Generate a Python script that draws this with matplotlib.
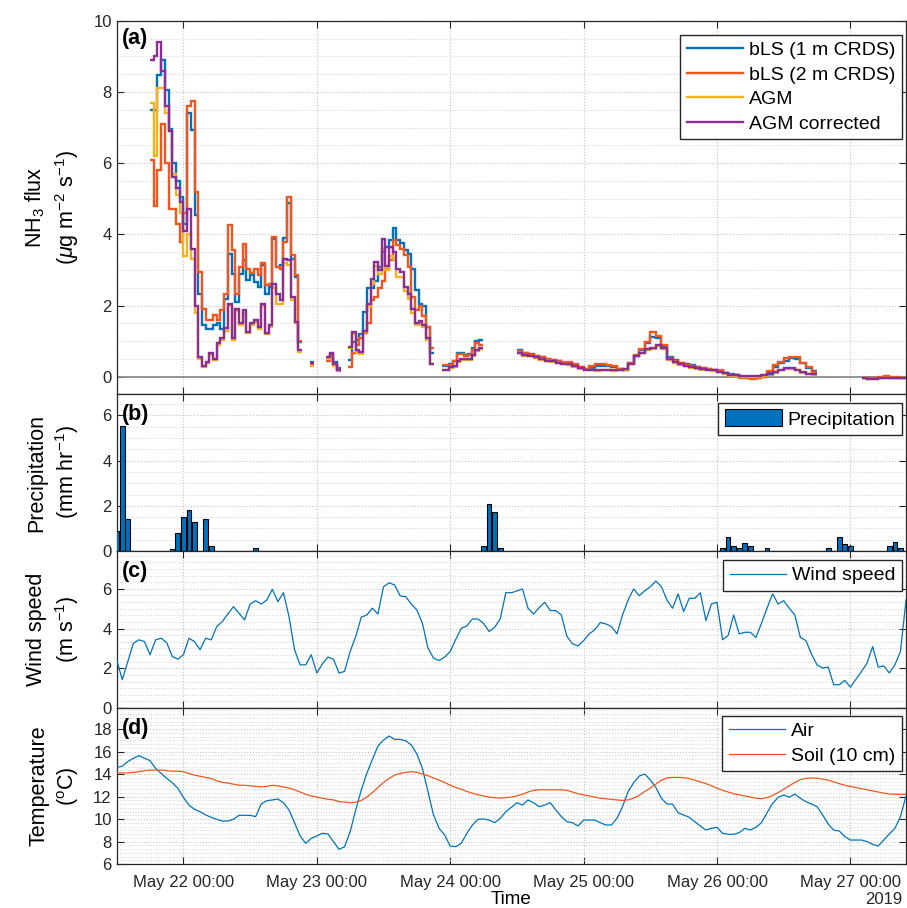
import numpy as np
import pandas as pd
import matplotlib
matplotlib.use('Agg')
import matplotlib.pyplot as plt
import matplotlib.dates as mdates
from matplotlib.ticker import MultipleLocator
from matplotlib.lines import Line2D

plt.rcParams['font.family'] = ['Liberation Sans', 'DejaVu Sans']
plt.rcParams['mathtext.fontset'] = 'custom'
plt.rcParams['mathtext.rm'] = 'Liberation Sans'
plt.rcParams['mathtext.it'] = 'Liberation Sans:italic'

# ---- (a) NH3 flux, stairs in segments (start time, step in minutes) ----
seg_start = ['2019-05-21 18:00', '2019-05-22 22:50', '2019-05-23 01:40',
             '2019-05-23 05:40', '2019-05-23 22:30', '2019-05-24 12:00',
             '2019-05-27 02:00']
seg_step = [40, 40, 40, 40, 40, 60, 60]

bls1 = [
    [7.5, 7.5, 8.47, 8.9, 8.05, 6.97, 6.0, 5.5, 5.05, 4.3, 7.4, 6.93, 4.55, 2.34,
     1.45, 1.35, 1.35, 1.45, 1.5, 1.35, 2.2, 3.45, 2.9, 2.1, 2.9, 3.28, 2.72, 2.86,
     2.67, 2.53, 3.14, 2.34, 2.53, 3.86, 3.09, 3.14, 3.89, 4.87, 3.32, 2.81, 0.98],
    [0.42],
    [0.5, 0.62, 0.42, 0.25],
    [0.47, 0.98, 1.03, 1.2, 1.83, 2.5, 2.5, 2.7, 3.09, 3.51, 3.65, 3.84, 4.17, 3.84,
     3.75, 3.56, 3.46, 3.04, 2.43, 2.06, 1.98, 1.4, 0.66],
    [0.3, 0.32, 0.35, 0.45, 0.66, 0.66, 0.62, 0.64, 0.8, 1.0, 1.03],
    [0.75, 0.68, 0.63, 0.58, 0.55, 0.5, 0.47, 0.44, 0.4, 0.38, 0.33, 0.27, 0.22, 0.25,
     0.3, 0.3, 0.3, 0.28, 0.22, 0.2, 0.38, 0.6, 0.75, 0.95, 1.12, 1.1, 0.88, 0.55,
     0.48, 0.4, 0.36, 0.33, 0.28, 0.25, 0.22, 0.2, 0.17, 0.12, 0.07, 0.04, 0.0, -0.02,
     -0.03, -0.02, 0.02, 0.12, 0.28, 0.38, 0.46, 0.52, 0.5, 0.38, 0.26, 0.17],
    [-0.03, -0.04, -0.03, -0.02, -0.01, -0.02, -0.02, -0.03],
]
bls2 = [
    [6.1, 4.8, 5.8, 7.1, 6.0, 4.7, 4.7, 4.3, 3.8, 4.6, 7.6, 7.75, 5.2, 2.95, 1.9,
     1.6, 1.6, 1.73, 1.61, 1.87, 2.34, 4.26, 3.56, 2.34, 3.09, 3.73, 3.04, 2.92, 3.04,
     2.86, 3.2, 2.57, 2.62, 3.93, 3.09, 3.04, 3.79, 5.06, 3.42, 2.86, 1.0],
    [0.35],
    [0.45, 0.6, 0.35, 0.2],
    [0.28, 0.66, 0.9, 1.1, 1.22, 1.5, 2.15, 2.25, 2.5, 2.7, 3.04, 3.28, 3.84, 3.7,
     3.6, 3.42, 3.09, 2.25, 1.87, 2.0, 1.7, 1.4, 0.8],
    [0.33, 0.33, 0.33, 0.45, 0.64, 0.64, 0.6, 0.62, 0.75, 0.94, 0.9],
    [0.73, 0.66, 0.62, 0.6, 0.56, 0.49, 0.47, 0.45, 0.42, 0.42, 0.35, 0.28, 0.22, 0.3,
     0.36, 0.36, 0.34, 0.3, 0.23, 0.19, 0.4, 0.62, 0.78, 0.98, 1.26, 1.15, 0.9, 0.52,
     0.45, 0.38, 0.34, 0.3, 0.27, 0.24, 0.22, 0.2, 0.18, 0.12, 0.06, 0.05, -0.02, -0.03,
     -0.05, -0.04, 0.0, 0.16, 0.33, 0.42, 0.52, 0.56, 0.55, 0.4, 0.28, 0.15],
    [-0.02, -0.03, -0.02, 0.0, 0.02, 0.0, -0.01, -0.02],
]
agm = [
    [7.7, 6.2, 8.1, 8.1, 7.4, 6.9, 5.7, 5.1, 4.6, 3.4, 4.0, 3.3, 1.8, 0.5, 0.28,
     0.4, 0.62, 0.48, 0.9, 1.03, 1.3, 2.0, 1.03, 1.85, 1.45, 1.8, 1.22, 1.45, 1.55,
     1.35, 1.98, 1.2, 1.4, 2.5, 2.06, 2.06, 3.2, 3.15, 2.15, 1.5, 0.7],
    [0.3],
    [0.5, 0.58, 0.3, 0.17],
    [0.8, 1.2, 0.7, 0.65, 1.25, 2.0, 2.6, 3.1, 2.9, 3.6, 3.0, 3.4, 3.3, 2.8, 2.8,
     2.4, 2.2, 1.8, 1.45, 1.5, 1.4, 1.05, 0.35],
    [0.18, 0.18, 0.25, 0.28, 0.42, 0.48, 0.47, 0.48, 0.6, 0.72, 0.78],
    [0.66, 0.6, 0.58, 0.53, 0.48, 0.44, 0.42, 0.38, 0.35, 0.33, 0.28, 0.23, 0.18, 0.18,
     0.17, 0.18, 0.18, 0.17, 0.18, 0.2, 0.35, 0.58, 0.66, 0.75, 0.78, 0.86, 0.78, 0.47,
     0.4, 0.34, 0.3, 0.26, 0.23, 0.2, 0.18, 0.16, 0.13, 0.08, 0.03, 0.02, 0.0, 0.0,
     0.0, 0.01, 0.02, 0.06, 0.12, 0.18, 0.23, 0.23, 0.18, 0.12, 0.07, 0.05],
    [-0.03, -0.05, -0.05, -0.04, -0.03, -0.03, -0.03, -0.04],
]
agm_corr = [
    [8.9, 9.0, 9.4, 8.6, 7.6, 6.9, 5.6, 5.3, 4.9, 4.1, 4.7, 3.6, 2.0, 0.55, 0.3,
     0.42, 0.66, 0.5, 0.94, 1.08, 1.36, 2.06, 1.08, 1.92, 1.5, 1.87, 1.26, 1.5, 1.6,
     1.4, 2.04, 1.24, 1.45, 2.62, 2.34, 2.15, 3.32, 3.28, 2.25, 1.55, 0.75],
    [0.38],
    [0.55, 0.66, 0.36, 0.2],
    [0.84, 1.26, 0.75, 0.7, 1.3, 2.06, 2.76, 3.23, 3.0, 3.86, 3.1, 3.65, 3.5, 3.04,
     2.95, 2.53, 2.34, 1.92, 1.5, 1.57, 1.45, 1.1, 0.37],
    [0.2, 0.2, 0.28, 0.3, 0.45, 0.51, 0.5, 0.51, 0.62, 0.75, 0.8],
    [0.68, 0.62, 0.6, 0.55, 0.5, 0.46, 0.44, 0.4, 0.37, 0.35, 0.3, 0.25, 0.2, 0.2,
     0.19, 0.2, 0.2, 0.19, 0.2, 0.22, 0.37, 0.6, 0.68, 0.77, 0.8, 0.89, 0.8, 0.49,
     0.42, 0.36, 0.32, 0.28, 0.25, 0.22, 0.2, 0.18, 0.15, 0.1, 0.05, 0.04, 0.02, 0.02,
     0.02, 0.03, 0.04, 0.08, 0.14, 0.2, 0.25, 0.25, 0.2, 0.14, 0.09, 0.07],
    [-0.03, -0.05, -0.05, -0.04, -0.03, -0.03, -0.03, -0.04],
]

# ---- (b) precipitation (hourly) ----
precip_time = ['2019-05-21 12:00', '2019-05-21 13:00', '2019-05-21 14:00',
               '2019-05-21 22:00', '2019-05-21 23:00', '2019-05-22 00:00',
               '2019-05-22 01:00', '2019-05-22 02:00', '2019-05-22 04:00',
               '2019-05-22 05:00', '2019-05-22 13:00', '2019-05-24 06:00',
               '2019-05-24 07:00', '2019-05-24 08:00', '2019-05-24 09:00',
               '2019-05-26 01:00', '2019-05-26 02:00', '2019-05-26 03:00',
               '2019-05-26 04:00', '2019-05-26 05:00', '2019-05-26 06:00',
               '2019-05-26 09:00', '2019-05-26 20:00', '2019-05-26 22:00',
               '2019-05-26 23:00', '2019-05-27 00:00', '2019-05-27 07:00',
               '2019-05-27 08:00', '2019-05-27 09:00']
precip = [0.9, 5.53, 1.4, 0.1, 0.81, 1.52, 1.81, 1.3, 1.4, 0.22, 0.12, 0.22, 2.08,
          1.73, 0.12, 0.12, 0.63, 0.22, 0.12, 0.34, 0.22, 0.12, 0.12, 0.63, 0.31,
          0.22, 0.22, 0.41, 0.12]

# ---- (c), (d) hourly met data from 2019-05-21 12:00 ----
met_start = '2019-05-21 12:00'
wind = [2.42, 1.42, 2.34, 3.26, 3.43, 3.34, 2.68, 3.43, 3.51, 3.29, 2.59, 2.46, 2.68,
        3.51, 3.34, 2.93, 3.51, 3.43, 4.1, 4.35, 4.73, 5.1, 4.77, 4.43, 5.23, 5.4,
        5.23, 5.43, 5.97, 5.35, 5.8, 4.6, 2.93, 2.17, 2.17, 2.68, 1.76, 2.22, 2.56,
        2.46, 1.76, 1.84, 2.84, 3.6, 4.57, 4.68, 5.02, 4.73, 6.1, 6.3, 6.19, 5.64, 5.6,
        5.23, 4.93, 4.26, 3.01, 2.51, 2.39, 2.56, 2.84, 3.46, 4.01, 4.13, 4.48, 4.48,
        4.26, 3.85, 4.06, 4.48, 5.8, 5.8, 5.89, 5.99, 5.02, 4.73, 5.05, 5.32, 4.9, 4.9,
        4.68, 3.6, 3.23, 3.13, 3.39, 3.73, 3.93, 4.3, 4.23, 4.1, 3.73, 4.68, 5.43, 5.99,
        5.65, 5.9, 6.1, 6.39, 6.1, 5.43, 5.02, 5.74, 4.85, 5.52, 5.52, 5.8, 4.4, 5.23,
        5.32, 3.43, 3.65, 4.68, 3.73, 3.81, 3.81, 3.55, 4.26, 5.02, 5.74, 5.23, 5.4,
        5.02, 4.68, 3.55, 3.39, 2.71, 2.17, 2.01, 2.06, 1.17, 1.17, 1.39, 1.05, 1.45,
        1.84, 2.26, 3.09, 2.06, 2.12, 1.76, 2.17, 2.84, 5.43]
t_air = [14.59, 14.7, 15.1, 15.4, 15.63, 15.4, 15.19, 14.5, 14.06, 13.61, 13.23, 12.73,
         11.93, 11.24, 10.86, 10.65, 10.36, 10.15, 9.97, 9.82, 9.82, 9.97, 10.33, 10.33,
         10.33, 10.21, 11.33, 11.63, 11.69, 11.78, 11.45, 10.8, 9.67, 8.49, 7.84, 8.28,
         8.49, 8.73, 8.67, 7.99, 7.3, 7.54, 8.87, 10.8, 12.58, 14.06, 15.3, 16.49, 17.02,
         17.38, 17.08, 17.08, 16.96, 16.58, 15.78, 14.5, 12.43, 10.36, 9.17, 8.58, 7.6,
         7.54, 7.84, 8.73, 9.47, 9.97, 10.0, 9.91, 9.67, 10.06, 10.65, 11.04, 11.45,
         11.24, 11.69, 11.45, 11.1, 11.24, 11.45, 10.8, 10.21, 9.76, 9.67, 9.38, 9.91,
         9.91, 9.91, 9.67, 9.47, 9.47, 10.06, 11.1, 12.43, 13.23, 13.82, 14.0, 13.47,
         12.81, 11.84, 11.33, 11.33, 10.56, 10.36, 10.15, 9.76, 9.38, 9.02, 9.17, 9.26,
         8.73, 8.64, 8.64, 8.79, 9.17, 9.02, 9.26, 9.67, 10.56, 11.39, 11.93, 12.13,
         11.93, 12.22, 11.84, 11.54, 11.33, 11.1, 10.36, 9.56, 9.02, 8.93, 8.43, 8.13,
         8.13, 8.13, 7.99, 7.75, 7.6, 8.13, 8.67, 9.17, 10.21, 12.04]
t_soil = [14.1, 14.1, 14.1, 14.15, 14.2, 14.3, 14.35, 14.35, 14.35, 14.3, 14.25, 14.25,
          14.2, 14.05, 13.9, 13.8, 13.7, 13.6, 13.4, 13.25, 13.2, 13.1, 13.0, 13.0,
          12.95, 12.9, 12.85, 12.9, 13.0, 12.95, 12.85, 12.75, 12.6, 12.4, 12.2, 12.05,
          11.95, 11.85, 11.75, 11.7, 11.55, 11.5, 11.45, 11.5, 11.65, 11.95, 12.35, 12.8,
          13.25, 13.6, 13.9, 14.05, 14.15, 14.2, 14.15, 14.0, 13.85, 13.65, 13.45, 13.25,
          13.0, 12.8, 12.65, 12.45, 12.3, 12.15, 12.05, 11.95, 11.9, 11.85, 11.9, 11.95,
          12.05, 12.2, 12.4, 12.55, 12.6, 12.6, 12.6, 12.6, 12.6, 12.55, 12.4, 12.25,
          12.15, 12.05, 11.95, 11.85, 11.8, 11.75, 11.7, 11.65, 11.7, 11.85, 12.1, 12.45,
          12.75, 13.1, 13.45, 13.65, 13.7, 13.7, 13.68, 13.6, 13.45, 13.3, 13.15, 12.95,
          12.75, 12.55, 12.4, 12.25, 12.15, 12.05, 11.95, 11.85, 11.8, 11.9, 12.1, 12.35,
          12.65, 12.95, 13.25, 13.5, 13.62, 13.65, 13.62, 13.55, 13.45, 13.3, 13.15, 13.0,
          12.9, 12.8, 12.7, 12.6, 12.5, 12.4, 12.3, 12.22, 12.2, 12.2, 12.2]

c_blue = '#0072BD'
c_orange = '#F0561D'
c_yellow = '#F5B21E'
c_purple = '#8B2D96'
axcol = '#262626'

fig = plt.figure(figsize=(9.07, 9.08), dpi=100)
W, H = 907.0, 908.0
left = 116.7 / W
width = (906 - 116.7) / W


def mk_ax(top_px, bot_px):
    return fig.add_axes([left, 1 - bot_px / H, width, (bot_px - top_px) / H])


ax_a = mk_ax(20.7, 394)
ax_b = mk_ax(394, 551)
ax_c = mk_ax(551, 708)
ax_d = mk_ax(708, 864)
axes = [ax_a, ax_b, ax_c, ax_d]

x0 = mdates.date2num(pd.Timestamp('2019-05-21 12:00'))
x1 = mdates.date2num(pd.Timestamp('2019-05-27 10:00'))

leg_kw = dict(borderaxespad=0, fontsize=14, handlelength=2.9, handletextpad=0.3,
              borderpad=0.35, fancybox=False, framealpha=1, edgecolor=axcol)

# (a)
ax_a.axhline(0, color='#8c8c8c', lw=1.3, zorder=1)
series = [(bls1, c_blue, 'bLS (1 m CRDS)'), (bls2, c_orange, 'bLS (2 m CRDS)'),
          (agm, c_yellow, 'AGM'), (agm_corr, c_purple, 'AGM corrected')]
for data, col, lab in series:
    for s in range(len(seg_start)):
        t0 = pd.Timestamp(seg_start[s])
        step = pd.Timedelta(minutes=seg_step[s])
        vals = data[s]
        edges = mdates.date2num([t0 + i * step for i in range(len(vals) + 1)])
        ax_a.stairs(vals, edges, baseline=None, color=col, lw=1.7, zorder=3)
ax_a.set_ylim(-0.48, 10)
ax_a.set_yticks(range(0, 11, 2))
ax_a.yaxis.set_minor_locator(MultipleLocator(0.5))
ax_a.set_ylabel('NH$_3$ flux\n($\\mu$g m$^{-2}$ s$^{-1}$)', fontsize=15.5,
                linespacing=1.3)
handles = [Line2D([], [], color=c, lw=1.7) for _, c, _ in series]
labels = [lab for _, _, lab in series]
ax_a.legend(handles, labels, loc='upper right', bbox_to_anchor=(0.995, 0.962),
            labelspacing=0.35, **leg_kw)

# (b)
ax_b.bar(mdates.date2num(pd.to_datetime(precip_time)), precip, width=0.85 / 24,
         color=c_blue, edgecolor='black', lw=0.8, label='Precipitation', zorder=3)
ax_b.set_ylim(0, 6.95)
ax_b.set_yticks([0, 2, 4, 6])
ax_b.yaxis.set_minor_locator(MultipleLocator(0.5))
ax_b.set_ylabel('Precipitation\n(mm hr$^{-1}$)', fontsize=15.5, linespacing=1.3)
ax_b.legend(loc='upper right', bbox_to_anchor=(0.995, 0.945), handleheight=0.95,
            **leg_kw)

# (c)
met_t = mdates.date2num(pd.date_range(met_start, periods=len(wind), freq='h'))
ax_c.plot(met_t, wind, color=c_blue, lw=0.9, label='Wind speed', zorder=3)
ax_c.set_ylim(0, 7.9)
ax_c.set_yticks([0, 2, 4, 6])
ax_c.yaxis.set_minor_locator(MultipleLocator(1 / 3))
ax_c.set_ylabel('Wind speed\n(m s$^{-1}$)', fontsize=15.5, linespacing=1.3)
ax_c.legend(loc='upper right', bbox_to_anchor=(0.995, 0.943), **leg_kw)

# (d)
ax_d.plot(met_t, t_air, color=c_blue, lw=0.9, label='Air', zorder=3)
ax_d.plot(met_t, t_soil, color=c_orange, lw=0.9, label='Soil (10 cm)', zorder=3)
ax_d.set_ylim(6, 19.87)
ax_d.set_yticks(range(6, 19, 2))
ax_d.yaxis.set_minor_locator(MultipleLocator(1 / 3))
ax_d.set_ylabel('Temperature\n($^{\\rm o}$C)', fontsize=15.5, linespacing=1.3)
ax_d.legend(loc='upper right', bbox_to_anchor=(0.995, 0.95), labelspacing=0.35,
            **leg_kw)

for ax, lab in zip(axes, ['(a)', '(b)', '(c)', '(d)']):
    ax.set_xlim(x0, x1)
    ax.xaxis.set_major_locator(mdates.DayLocator())
    ax.xaxis.set_major_formatter(mdates.DateFormatter('%b %d %H:%M'))
    ax.grid(True, which='major', ls=':', color='#c4c4c4', lw=0.8)
    ax.grid(True, which='minor', axis='y', ls=':', color='#d2d2d2', lw=0.7)
    ax.set_axisbelow(True)
    ax.tick_params(which='major', direction='in', length=5, width=0.8, top=True,
                   right=True, colors=axcol, labelsize=12, labelcolor=axcol)
    ax.tick_params(axis='x', pad=8)
    ax.tick_params(which='minor', length=0)
    for sp in ax.spines.values():
        sp.set_color(axcol)
        sp.set_linewidth(0.9)
    ax.yaxis.set_label_coords(-0.045, 0.5)
    top = 1 - 7.0 / 373 if ax is ax_a else 1 - 10.0 / 157
    ax.text(0.007, top, lab, transform=ax.transAxes, fontsize=15.5,
            fontweight='bold', va='top', ha='left', color='black', zorder=5)
    if ax is not ax_d:
        ax.tick_params(labelbottom=False)

ax_d.set_xlabel('Time', fontsize=13.5, labelpad=1)
fig.text(902 / W, 1 - 900 / H, '2019', ha='right', va='center', fontsize=12,
         color=axcol)

fig.savefig('out.png', dpi=100)
